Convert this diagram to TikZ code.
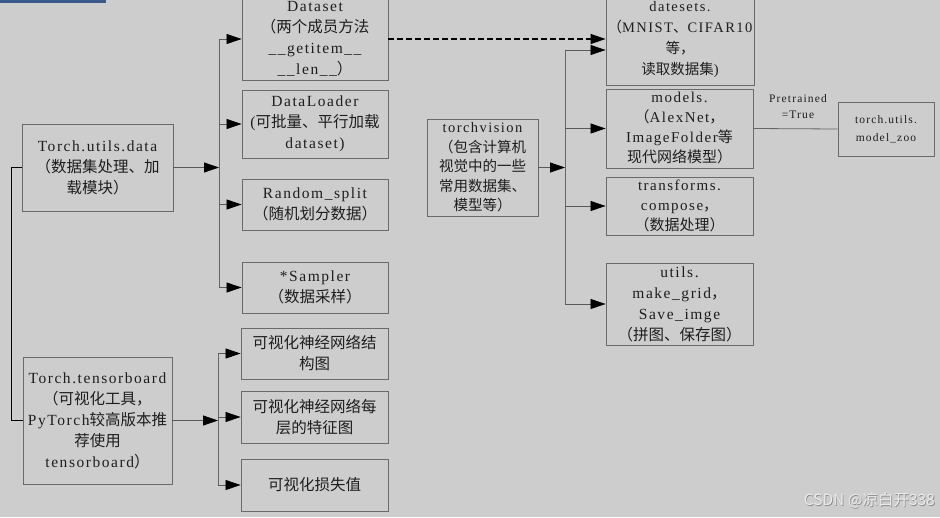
\documentclass[tikz,border=0pt]{standalone}
\usepackage{fontspec}
\setmainfont[LetterSpace=10]{Liberation Serif}
\newfontfamily\zhf{Noto Sans CJK SC}
\newcommand\zh[1]{{\zhf #1}}
\usetikzlibrary{arrows.meta}
\definecolor{bg}{HTML}{CDCDCD}
\definecolor{bord}{HTML}{6A6A6A}
\definecolor{txt}{HTML}{1E1E1E}
\definecolor{bar}{HTML}{3B5A8C}
\begin{document}
\begin{tikzpicture}[x=1pt,y=-1pt,
  box/.style={draw=bord, line width=0.9pt, align=center, inner sep=0pt, text=txt,
    font=\fontsize{15.5}{21}\selectfont},
  smalltext/.style={align=center, inner sep=0pt, text=txt, font=\fontsize{11.5}{16}\selectfont},
  arr/.style={-{Triangle[length=15pt,width=10pt,color=black,fill=black]}, draw=black!65, line width=0.8pt},
  ln/.style={draw=black!60, line width=0.8pt}]
\fill[bg] (0,0) rectangle (940,517);
\useasboundingbox (0,0) rectangle (940,517);
\fill[bar] (0,0) rectangle (106,2.5);

% left column
\node[box, minimum width=151pt, minimum height=87pt] (tud) at (97.5,167.5)
  {Torch.utils.data\\\zh{（数据集处理、加}\\\zh{载模块）}};
\node[box, minimum width=149pt, minimum height=127pt] (tb) at (97.5,420.5)
  {Torch.tensorboard\\\zh{（可视化工具，}\\PyTorch\zh{较高版本推}\\\zh{荐使用}\\tensorboard\zh{）}};

% middle column
\node[box, minimum width=146pt, minimum height=82pt] (dataset) at (315,39)
  {Dataset\\\zh{（两个成员方法}\\\_\_getitem\_\_\\\_\_len\_\_\zh{）}};
\node[box, minimum width=146pt, minimum height=68pt] (loader) at (315,124)
  {DataLoader\\(\zh{可批量、平行加载}\\dataset)};
\node[box, minimum width=146pt, minimum height=51pt] (rsplit) at (315,204.5)
  {Random\_split\\\zh{（随机划分数据）}};
\node[box, minimum width=146pt, minimum height=51pt] (sampler) at (315,287.5)
  {*Sampler\\\zh{（数据采样）}};
\node[box, minimum width=147pt, minimum height=51pt] (viza) at (314.5,353.5)
  {\zh{可视化神经网络结}\\\zh{构图}};
\node[box, minimum width=147pt, minimum height=52pt] (vizb) at (314.5,417)
  {\zh{可视化神经网络每}\\\zh{层的特征图}};
\node[box, minimum width=147pt, minimum height=52pt] (vizc) at (314.5,485)
  {\zh{可视化损失值}};

% torchvision
\node[box, minimum width=111pt, minimum height=97pt, font=\fontsize{14.5}{19.5}\selectfont] (tv) at (482.5,167.5)
  {torchvision\\\zh{（包含计算机}\\\zh{视觉中的一些}\\\zh{常用数据集、}\\\zh{模型等）}};

% right column
\node[box, minimum width=148pt, minimum height=90pt, font=\fontsize{14.5}{21}\selectfont] (datasets) at (680,40)
  {datesets.\\\zh{（}MNIST\zh{、}CIFAR10\\\zh{等，}\\\zh{读取数据集})};
\node[box, minimum width=147pt, minimum height=79pt, font=\fontsize{15}{20}\selectfont] (models) at (679.5,128.5)
  {models.\\\zh{（}AlexNet\zh{，}\\ImageFolder\zh{等}\\\zh{现代网络模型）}};
\node[box, minimum width=147pt, minimum height=58pt, font=\fontsize{15}{20}\selectfont] (transforms) at (679.5,206)
  {transforms.\\compose\zh{，}\\\zh{（数据处理）}};
\node[box, minimum width=147pt, minimum height=82pt] (utils) at (679.5,304)
  {utils.\\make\_grid\zh{，}\\Save\_imge\\\zh{（拼图、保存图）}};
\node[box, minimum width=96pt, minimum height=54pt, font=\fontsize{11.5}{18}\selectfont] (zoo) at (886,129)
  {torch.utils.\\model\_zoo};
\node[smalltext] (pt) at (798,107) {Pretrained\\=True};

% junction coordinates
\coordinate (jm) at (219,167.5);
\coordinate (ja) at (219,39);
\coordinate (jb) at (219,124);
\coordinate (jc) at (219,204.5);
\coordinate (jd) at (219,287.5);
\coordinate (km) at (218,420.5);
\coordinate (ka) at (218,353.5);
\coordinate (kb) at (218,417);
\coordinate (kc) at (218,485);
\coordinate (tm) at (565,167.5);
\coordinate (ta) at (565,50);
\coordinate (tbb) at (565,128.5);
\coordinate (tc) at (565,206);
\coordinate (td) at (565,304);

% Torch.utils.data branches
\draw[arr] (tud.east) -- (jm);
\draw[ln] (ja) -- (jd);
\draw[arr] (ja) -- (ja -| dataset.west);
\draw[arr] (jb) -- (jb -| loader.west);
\draw[arr] (jc) -- (jc -| rsplit.west);
\draw[arr] (jd) -- (jd -| sampler.west);

% tensorboard branches
\draw[arr] (tb.east) -- (km);
\draw[ln] (ka) -- (kc);
\draw[arr] (ka) -- (ka -| viza.west);
\draw[arr] (kb) -- (kb -| vizb.west);
\draw[arr] (kc) -- (kc -| vizc.west);

% bracket between the two roots
\draw[black, line width=1pt] (tud.west) -- ++(-10,0) |- (tb.west);

% torchvision branches
\draw[arr] (tv.east) -- (tm);
\draw[ln] (ta) -- (td);
\draw[arr] (ta) -- (ta -| datasets.west);
\draw[arr] (tbb) -- (tbb -| models.west);
\draw[arr] (tc) -- (tc -| transforms.west);
\draw[arr] (td) -- (td -| utils.west);

% dashed Dataset -> datasets
\draw[arr, draw=black, line width=1.3pt, dash pattern=on 6pt off 3pt] (dataset.east) -- (dataset.east -| datasets.west);

% models -> model_zoo
\draw[ln] (models.east) -- (zoo.west);

% watermark
\node[font=\zhf\fontsize{15.5}{16}\selectfont, text=black!45, inner sep=0pt, anchor=east] (wms) at (935.8,500.8) {CSDN @凉白开338};
\node[font=\zhf\fontsize{15.5}{16}\selectfont, text=white!92!black, inner sep=0pt, anchor=east] (wm) at (935,500) {CSDN @凉白开338};
\end{tikzpicture}
\end{document}
